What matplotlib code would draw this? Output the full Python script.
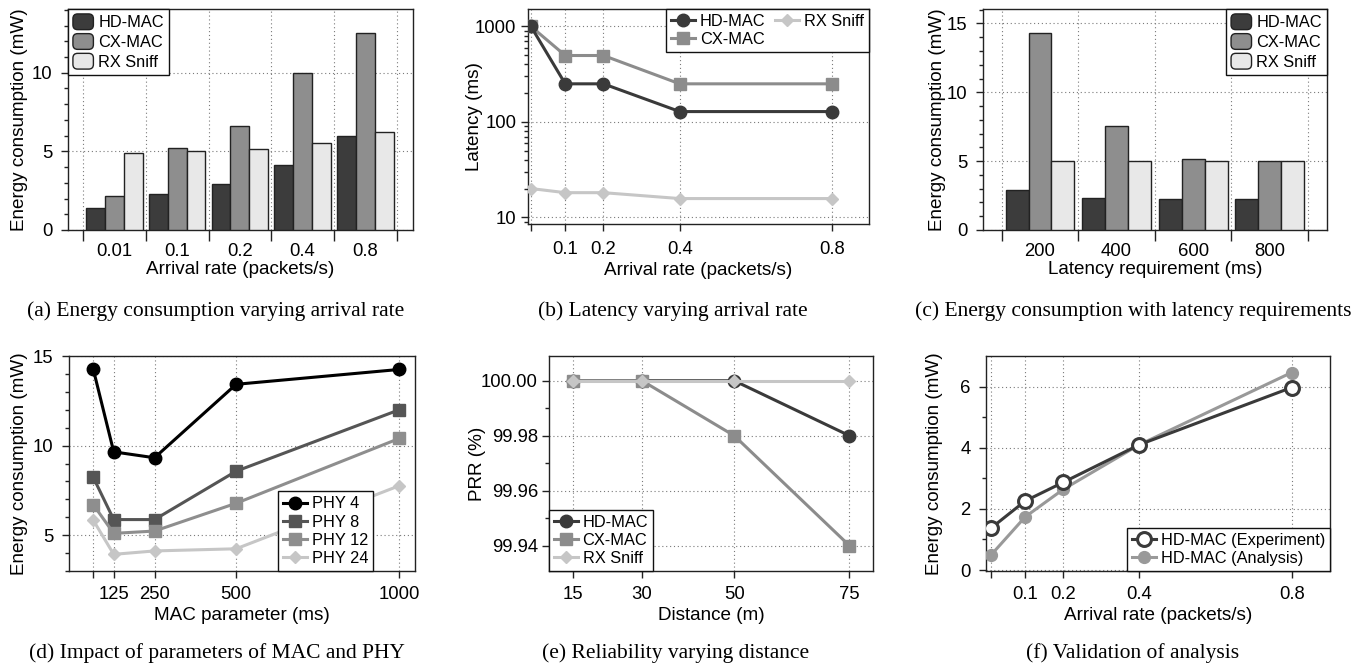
import matplotlib
matplotlib.use('Agg')
import matplotlib.pyplot as plt
from matplotlib.ticker import FixedLocator, MultipleLocator, NullFormatter, FormatStrFormatter, LogLocator
from matplotlib.legend_handler import HandlerPatch
from matplotlib.patches import FancyBboxPatch, Patch

W, H = 1366, 669
plt.rcParams['font.family'] = ['Liberation Sans', 'DejaVu Sans']
plt.rcParams['font.size'] = 13.3

TICK_FS = 13.3
LABEL_FS = 13.6
LEG_FS = 11.8
CAP_FS = 15.5

# ---------------- data ----------------
rates_a = ['0.01', '0.1', '0.2', '0.4', '0.8']
energy_a_hd = [1.38, 2.3, 2.9, 4.12, 6.0]
energy_a_cx = [2.17, 5.19, 6.64, 9.95, 12.53]
energy_a_rx = [4.89, 5.03, 5.15, 5.52, 6.23]

rates_b = [0.01, 0.1, 0.2, 0.4, 0.8]
rate_labels_b = ['', '0.1', '0.2', '0.4', '0.8']
lat_hd = [1000, 250, 250, 128, 128]
lat_cx = [1000, 495, 495, 250, 250]
lat_rx = [20, 18.1, 18.1, 15.7, 15.7]

lat_req = ['200', '400', '600', '800']
energy_c_hd = [2.9, 2.3, 2.25, 2.25]
energy_c_cx = [14.33, 7.58, 5.18, 5.02]
energy_c_rx = [5.0, 5.0, 5.0, 5.0]

mac_param = [62.5, 125, 250, 500, 1000]
mac_labels = ['', '125', '250', '500', '1000']
phy4 = [14.25, 9.65, 9.32, 13.42, 14.25]
phy8 = [8.22, 5.87, 5.87, 8.57, 12.0]
phy12 = [6.7, 5.1, 5.23, 6.78, 10.4]
phy24 = [5.83, 3.93, 4.12, 4.24, 7.76]

distance = [15, 30, 50, 75]
prr_hd = [100.0, 100.0, 100.0, 99.98]
prr_cx = [100.0, 100.0, 99.98, 99.94]
prr_rx = [100.0, 100.0, 100.0, 100.0]

rates_f = [0.01, 0.1, 0.2, 0.4, 0.8]
rate_labels_f = ['', '0.1', '0.2', '0.4', '0.8']
exp_f = [1.37, 2.26, 2.87, 4.1, 5.97]
ana_f = [0.49, 1.74, 2.64, 4.1, 6.46]

captions = ['(a) Energy consumption varying arrival rate',
            '(b) Latency varying arrival rate',
            '(c) Energy consumption with latency requirements',
            '(d) Impact of parameters of MAC and PHY',
            '(e) Reliability varying distance',
            '(f) Validation of analysis']

# ---------------- style ----------------
C_DARK = '#3c3c3c'
C_MID = '#8e8e8e'
C_LIGHT = '#e8e8e8'
L_DARK = '#3a3a3a'
L_MID = '#8c8c8c'
L_LIGHT = '#c6c6c6'
EDGE = '#222222'
GRID = dict(ls=(0, (1, 2.5)), color='#7a7a7a', lw=0.8)

fig = plt.figure(figsize=(W / 100, H / 100), dpi=100)


def mk_axes(l, t, r, b):
    ax = fig.add_axes([l / W, 1 - b / H, (r - l) / W, (b - t) / H])
    ax._px = (l, t, r, b)
    for s in ax.spines.values():
        s.set_color(EDGE)
        s.set_linewidth(1.0)
    ax.tick_params(direction='out', length=5, width=1, color=EDGE, labelsize=TICK_FS)
    ax.tick_params(axis='y', pad=6)
    ax.tick_params(axis='x', pad=6)
    ax.tick_params(which='minor', direction='out', length=3, width=1, color=EDGE)
    ax.set_axisbelow(True)
    return ax


def ylabel_at(ax, text, xc):
    l, t, r, b = ax._px
    ax.set_ylabel(text, fontsize=LABEL_FS, va='center')
    ax.yaxis.set_label_coords((xc - l) / (r - l), 0.5)


class RoundPatchHandler(HandlerPatch):
    def create_artists(self, legend, orig_handle, xdescent, ydescent, width, height, fontsize, trans):
        p = FancyBboxPatch((-xdescent, -ydescent), width, height,
                           boxstyle='round,pad=0,rounding_size=%f' % (height * 0.3),
                           facecolor=orig_handle.get_facecolor(), edgecolor=EDGE, lw=1.0,
                           transform=trans)
        return [p]


def bar_legend(ax, loc):
    handles = [Patch(facecolor=C_DARK), Patch(facecolor=C_MID), Patch(facecolor=C_LIGHT)]
    leg = ax.legend(handles, ['HD-MAC', 'CX-MAC', 'RX Sniff'], loc=loc, borderaxespad=0,
                    handler_map={Patch: RoundPatchHandler()}, fontsize=LEG_FS,
                    handlelength=1.25, handleheight=1.1, labelspacing=0.2, handletextpad=0.3,
                    borderpad=0.3, fancybox=False, framealpha=1, edgecolor='#111')
    leg.get_frame().set_linewidth(1.0)
    return leg


def line_legend(ax, **kw):
    leg = ax.legend(fontsize=LEG_FS, fancybox=False, framealpha=1, edgecolor='#111',
                    borderaxespad=0, handlelength=1.45, handletextpad=0.3, labelspacing=0.2,
                    borderpad=0.3, **kw)
    leg.get_frame().set_linewidth(1.0)
    return leg


def grouped_bars(ax, cats, series, width):
    n = len(cats)
    xs = list(range(n))
    cols = [C_DARK, C_MID, C_LIGHT]
    for k, vals in enumerate(series):
        ax.bar([x + (k - 1) * width for x in xs], vals, width=width, color=cols[k],
               edgecolor=EDGE, linewidth=1.0, zorder=3)
    ax.xaxis.set_major_locator(FixedLocator([i - 0.5 for i in range(n + 1)]))
    ax.xaxis.set_major_formatter(NullFormatter())
    ax.set_xticks(xs, minor=True)
    ax.set_xticklabels(cats, minor=True)
    ax.tick_params(axis='x', which='major', length=8)
    ax.tick_params(axis='x', which='minor', length=0, pad=9, labelsize=TICK_FS)
    ax.grid(True, axis='both', which='major', **GRID)


# ---------------- (a) ----------------
ax = mk_axes(68, 9, 413, 230)
grouped_bars(ax, rates_a, [energy_a_hd, energy_a_cx, energy_a_rx], 0.3)
ax.set_xlim(-0.74, 4.76)
ax.set_ylim(0, 14.05)
ax.yaxis.set_major_locator(FixedLocator([0, 5, 10]))
ax.yaxis.set_minor_locator(MultipleLocator(1))
ylabel_at(ax, 'Energy consumption (mW)', 20)
ax.set_xlabel('Arrival rate (packets/s)', fontsize=LABEL_FS, labelpad=1)
bar_legend(ax, 'upper left')

# ---------------- (b) ----------------
ax = mk_axes(528, 9, 869, 224)
ax.set_yscale('log')
ax.plot(rates_b, lat_hd, color=L_DARK, lw=2.2, marker='o', ms=9, label='HD-MAC', zorder=4)
ax.plot(rates_b, lat_cx, color=L_MID, lw=2.2, marker='s', ms=9, label='CX-MAC', zorder=3)
ax.plot(rates_b, lat_rx, color=L_LIGHT, lw=2.2, marker='D', ms=6, label='RX Sniff', zorder=3)
ax.set_xlim(0.0024, 0.896)
ax.set_ylim(8.5, 1520)
ax.set_xticks(rates_b)
ax.set_xticklabels(rate_labels_b)
ax.tick_params(axis='x', pad=7)
ax.tick_params(axis='y', pad=3.5)
ax.yaxis.set_major_locator(FixedLocator([10, 100, 1000]))
ax.yaxis.set_major_formatter(FormatStrFormatter('%d'))
ax.yaxis.set_minor_locator(LogLocator(base=10, subs=range(2, 10)))
ax.yaxis.set_minor_formatter(NullFormatter())
ax.grid(True, which='major', **GRID)
ylabel_at(ax, 'Latency (ms)', 474.5)
ax.set_xlabel('Arrival rate (packets/s)', fontsize=LABEL_FS, labelpad=3)
h, l = ax.get_legend_handles_labels()
line_legend(ax, handles=[h[0], h[1], h[2]], labels=[l[0], l[1], l[2]], loc='upper right',
            ncol=2, columnspacing=0.6)

# ---------------- (c) ----------------
ax = mk_axes(983, 9, 1327, 230)
grouped_bars(ax, lat_req, [energy_c_hd, energy_c_cx, energy_c_rx], 0.30)
ax.set_xlim(-0.745, 3.75)
ax.set_ylim(0, 16.05)
ax.yaxis.set_major_locator(FixedLocator([0, 5, 10, 15]))
ax.yaxis.set_minor_locator(MultipleLocator(1))
ylabel_at(ax, 'Energy consumption (mW)', 937.5)
ax.set_xlabel('Latency requirement (ms)', fontsize=LABEL_FS, labelpad=1)
bar_legend(ax, 'upper right')

# ---------------- (d) ----------------
ax = mk_axes(69, 356, 415, 571)
ax.plot(mac_param, phy4, color='#000000', lw=2.2, marker='o', ms=9, label='PHY 4', zorder=4)
ax.plot(mac_param, phy8, color='#555555', lw=2.2, marker='s', ms=9, label='PHY 8', zorder=3)
ax.plot(mac_param, phy12, color='#8e8e8e', lw=2.2, marker='s', ms=9, label='PHY 12', zorder=3)
ax.plot(mac_param, phy24, color=L_LIGHT, lw=2.2, marker='D', ms=6, label='PHY 24', zorder=3)
ax.set_xlim(-12, 1048)
ax.set_ylim(3, 15)
ax.set_xticks(mac_param)
ax.set_xticklabels(mac_labels)
ax.yaxis.set_major_locator(FixedLocator([5, 10, 15]))
ax.yaxis.set_minor_locator(MultipleLocator(1))
ax.grid(True, which='major', **GRID)
ylabel_at(ax, 'Energy consumption (mW)', 20)
ax.set_xlabel('MAC parameter (ms)', fontsize=LABEL_FS, labelpad=3)
line_legend(ax, loc='lower right', bbox_to_anchor=(0.879, 0.0))

# ---------------- (e) ----------------
ax = mk_axes(549, 356, 873, 571)
ax.plot(distance, prr_hd, color=L_DARK, lw=2.2, marker='o', ms=9, label='HD-MAC', zorder=3)
ax.plot(distance, prr_cx, color=L_MID, lw=2.2, marker='s', ms=9, label='CX-MAC', zorder=4)
ax.plot(distance, prr_rx, color=L_LIGHT, lw=2.2, marker='D', ms=6, label='RX Sniff', zorder=5)
ax.set_xlim(9.8, 80.1)
ax.set_ylim(99.9308, 100.009)
ax.set_xticks(distance)
ax.yaxis.set_major_locator(FixedLocator([99.94, 99.96, 99.98, 100.0]))
ax.yaxis.set_major_formatter(FormatStrFormatter('%.2f'))
ax.yaxis.set_minor_locator(FixedLocator([99.95, 99.97, 99.99]))
ax.tick_params(axis='y', pad=3)
ax.grid(True, which='major', **GRID)
ylabel_at(ax, 'PRR (%)', 477)
ax.set_xlabel('Distance (m)', fontsize=LABEL_FS, labelpad=3)
line_legend(ax, loc='lower left')

# ---------------- (f) ----------------
ax = mk_axes(986, 356, 1330, 571)
ax.plot(rates_f, exp_f, color=L_DARK, lw=2.2, marker='o', ms=10, mfc='white', mec=L_DARK,
        mew=2.2, label='HD-MAC (Experiment)', zorder=4)
ax.plot(rates_f, ana_f, color='#999999', lw=2.2, marker='o', ms=8.5, label='HD-MAC (Analysis)',
        zorder=3)
ax.set_xlim(-0.003, 0.9008)
ax.set_ylim(-0.03, 7.0)
ax.set_xticks(rates_f)
ax.set_xticklabels(rate_labels_f)
ax.yaxis.set_major_locator(FixedLocator([0, 2, 4, 6]))
ax.yaxis.set_minor_locator(FixedLocator([1, 3, 5]))
ax.grid(True, which='major', **GRID)
ylabel_at(ax, 'Energy consumption (mW)', 934.5)
ax.set_xlabel('Arrival rate (packets/s)', fontsize=LABEL_FS, labelpad=3)
line_legend(ax, loc='lower right')

# ---------------- captions ----------------
cap_pos = [(216, 311), (673, 311), (1133, 311), (217, 653), (676, 653), (1133, 653)]
for txt, (cx, cy) in zip(captions, cap_pos):
    fig.text(cx / W, 1 - cy / H, txt, ha='center', va='center', fontsize=CAP_FS,
             family=['Liberation Serif', 'DejaVu Serif'])

fig.savefig('out.png', dpi=100)
